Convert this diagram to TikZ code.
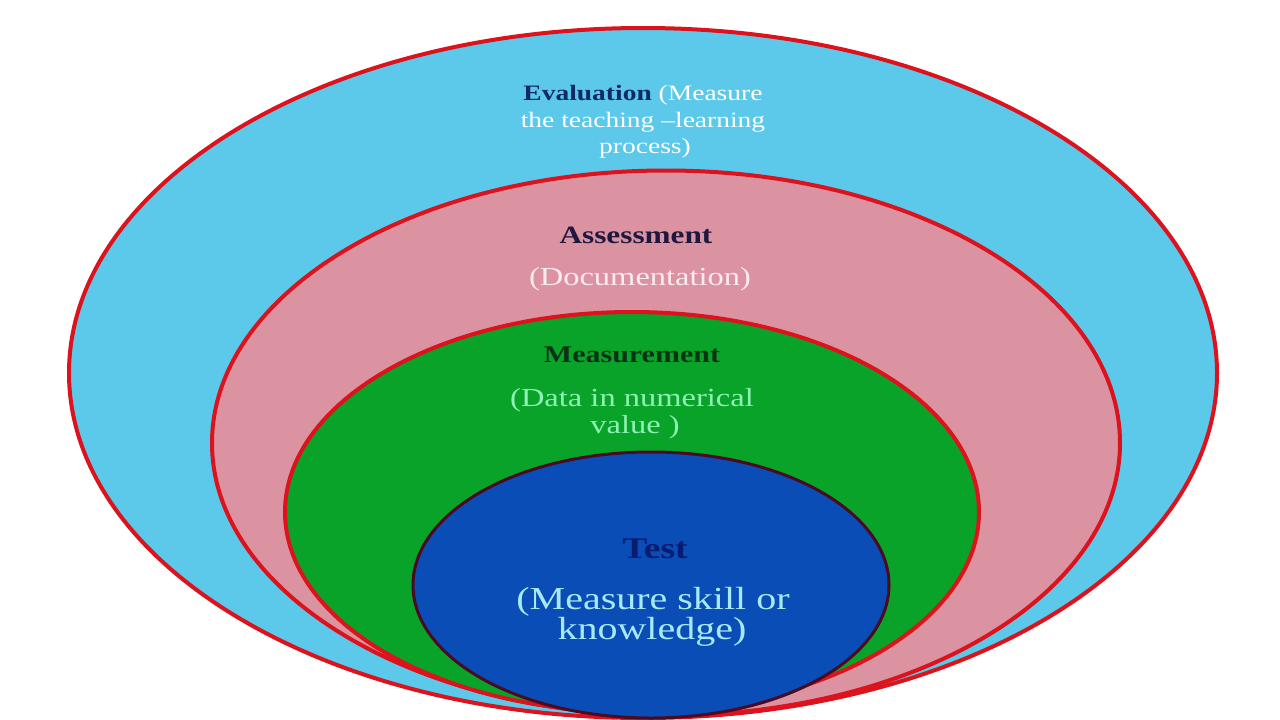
\documentclass[tikz,border=0pt]{standalone}
\usepackage{fontspec}
\setmainfont{Liberation Serif}
\newfontfamily\wideserif[FakeStretch=1.25,Ligatures=TeX]{Liberation Serif}
\usetikzlibrary{shapes.geometric}
\definecolor{evalfill}{HTML}{5CC8EA}
\definecolor{assfill}{HTML}{DB93A1}
\definecolor{measfill}{HTML}{0AA32A}
\definecolor{testfill}{HTML}{0B4DB6}
\definecolor{ringred}{HTML}{DC121C}
\definecolor{testline}{HTML}{4A0A22}
\definecolor{evaltitle}{HTML}{0F2A66}
\definecolor{asstitle}{HTML}{1E1840}
\definecolor{meastitle}{HTML}{0A3214}
\definecolor{testtitle}{HTML}{0A1C72}
\definecolor{asssub}{HTML}{FBEAF0}
\definecolor{meassub}{HTML}{8EF2B4}
\definecolor{testsub}{HTML}{A6EAF8}
\tikzset{
  ring/.style={ellipse, draw=ringred, line width=4pt, inner sep=0pt},
  lbl/.style={anchor=base, inner sep=0pt, font=\wideserif},
}
\begin{document}
\begin{tikzpicture}[x=1pt, y=-1pt]
\useasboundingbox[fill=white] (0,0) rectangle (1280,720);
\node[ring, fill=evalfill, minimum width=1148, minimum height=690] (eval) at (643,373) {};
\node[ring, fill=assfill, minimum width=908, minimum height=545] (ass) at (666,443) {};
\node[ring, fill=measfill, minimum width=694, minimum height=400] (meas) at (632,512) {};
\node[ring, fill=testfill, draw=testline, line width=3pt, minimum width=476, minimum height=266] (test) at (651,585) {};
% Evaluation
\node[lbl, font=\wideserif\fontsize{22}{26}\selectfont] (e1) at (643,100) {\textcolor{evaltitle}{\textbf{Evaluation}} \textcolor{white}{(Measure}};
\node[lbl, font=\wideserif\fontsize{22}{26}\selectfont, text=white] (e2) at (643,127) {the teaching –learning};
\node[lbl, font=\wideserif\fontsize{22}{26}\selectfont, text=white] (e3) at (645,153) {process)};
% Assessment
\node[lbl, font=\wideserif\bfseries\fontsize{25}{30}\selectfont, text=asstitle] (a1) at (636,243) {Assessment};
\node[lbl, font=\wideserif\fontsize{26}{30}\selectfont, text=asssub] (a2) at (640,285) {(Documentation)};
% Measurement
\node[lbl, font=\wideserif\bfseries\fontsize{24}{28}\selectfont, text=meastitle] (m1) at (632,362) {Measurement};
\node[lbl, font=\wideserif\fontsize{26}{30}\selectfont, text=meassub] (m2) at (632,406) {(Data in numerical};
\node[lbl, font=\wideserif\fontsize{26}{30}\selectfont, text=meassub] (m3) at (635,433) {value )};
% Test
\node[lbl, font=\wideserif\bfseries\fontsize{30}{34}\selectfont, text=testtitle] (t1) at (655,558) {Test};
\node[lbl, font=\wideserif\fontsize{32}{36}\selectfont, text=testsub] (t2) at (653,609) {(Measure skill or};
\node[lbl, font=\wideserif\fontsize{32}{36}\selectfont, text=testsub] (t3) at (652,639) {knowledge)};
\end{tikzpicture}
\end{document}
